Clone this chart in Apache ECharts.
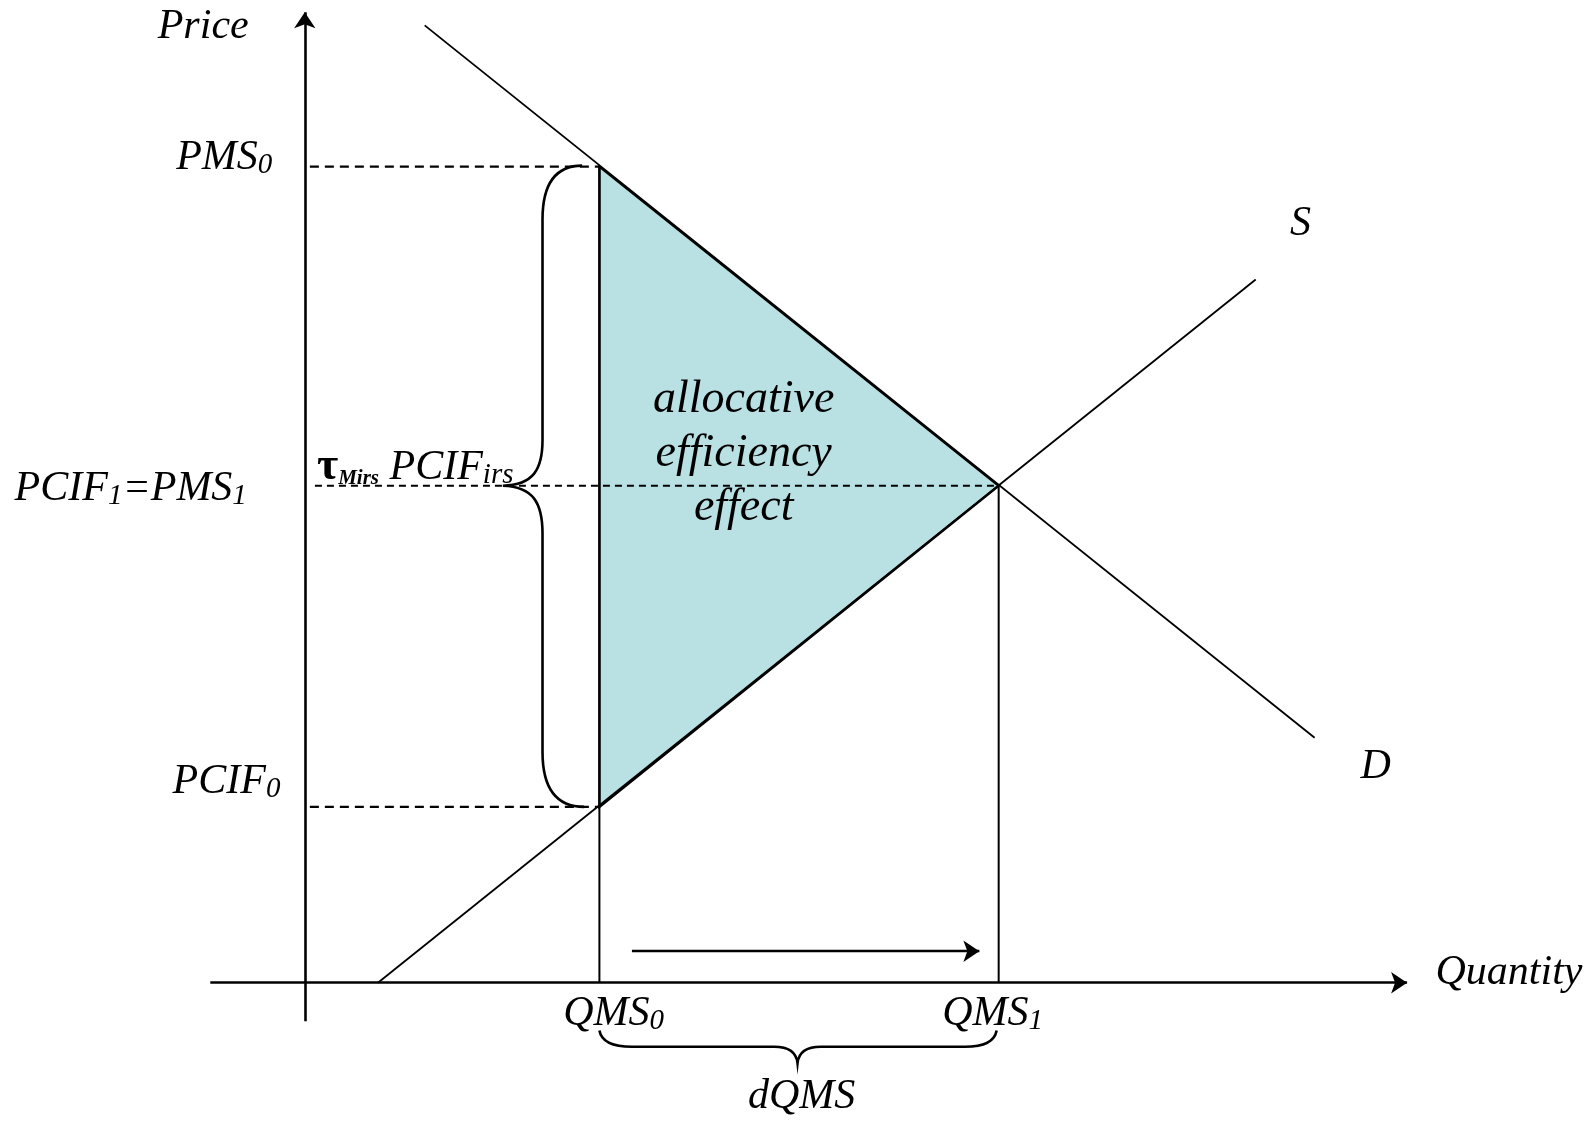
<!DOCTYPE html>
<html>
<head>
<meta charset="utf-8">
<script src="https://cdn.jsdelivr.net/npm/echarts@6/dist/echarts.min.js"></script>
<style>
html,body{margin:0;padding:0;background:#fff;}
#chart{width:1593px;height:1125px;}
</style>
</head>
<body>
<div id="chart"></div>
<script>
// ---------- data (quantity / price units, origin at axes crossing) ----------
const quantities = [290, 683];            // QMS0, QMS1
const prices = [803, 489, 173];           // PMS0, PCIF1=PMS1, PCIF0
const demandCurve = [[118, 942], [994, 241]];
const supplyCurve = [[72, 0], [936, 692]];
const quantityLabels = ['QMS{s|0}', 'QMS{s|1}'];
const priceLabels = ['PMS{s|0}', 'PCIF{s|1}=PMS{s|1}', 'PCIF{s|0}'];
const curveLabels = ['D', 'S'];
const axisNames = ['Price', 'Quantity'];
const effectLabel = 'allocative\nefficiency\neffect';
const tauLabel = '{tau|τ}{mirs|Mirs}{m| PCIF}{s|irs}';
const changeLabel = 'dQMS';

// ---------- layout ----------
const X_MIN = -300, X_MAX = 1268, Y_MIN = -140, Y_MAX = 967;
const FONT = '"Liberation Serif", "Times New Roman", serif';
const FS = 42;
const rich = {
  m: {fontFamily: FONT, fontStyle: 'italic', fontSize: FS, lineHeight: 44},
  s: {fontFamily: FONT, fontStyle: 'italic', fontSize: 29, lineHeight: 11, verticalAlign: 'bottom'},
  tau: {fontFamily: FONT, fontWeight: 'bold', fontSize: 46, lineHeight: 44},
  mirs: {fontFamily: FONT, fontWeight: 'bold', fontStyle: 'italic', fontSize: 21, lineHeight: 16, verticalAlign: 'bottom'}
};
function wrapMain(t) {
  return t.replace(/(^|\})([^{}]+)(?=\{|$)/g, (a, b, c) => b + '{m|' + c + '}');
}

const [QMS0, QMS1] = quantities;
const [PMS0, PMS1, PCIF0] = prices;

const labels = [
  {text: axisNames[0], x: -100, y: 940, align: 'center'},
  {text: axisNames[1], x: 1113, y: 10, align: 'left'},
  {text: priceLabels[0], x: -32, y: PMS0 + 9, align: 'right'},
  {text: priceLabels[1], x: -57, y: PMS1 - 3, align: 'right'},
  {text: priceLabels[2], x: -24, y: PCIF0 + 25, align: 'right'},
  {text: quantityLabels[0], x: QMS0 + 14, y: -31, align: 'center'},
  {text: quantityLabels[1], x: QMS1 - 6, y: -31, align: 'center'},
  {text: changeLabel, x: 489, y: -112, align: 'center'},
  {text: curveLabels[0], x: 1054, y: 212, align: 'center'},
  {text: curveLabels[1], x: 980, y: 747, align: 'center'},
  {text: tauLabel, x: 12, y: PMS1 + 18, align: 'left', raw: true}
];

const chart = echarts.init(document.getElementById('chart'), null, {renderer: 'canvas'});

function braceLeft(api) {
  const P = (x, y) => api.coord([x, y]);
  const pts = [
    ['M', [273, PMS0 + 1]],
    ['C', [250, PMS0 + 1], [234, 790], [234, 751]],
    ['L', [234, 534]],
    ['C', [234, 505], [225, 490], [195, PMS1]],
    ['C', [225, 488], [234, 472], [234, 442]],
    ['L', [234, 227]],
    ['C', [234, 188], [250, PCIF0], [275, PCIF0]]
  ];
  return toPath(pts, P);
}
function braceBottom(api) {
  const P = (x, y) => api.coord([x, y]);
  const pts = [
    ['M', [QMS0, -47]],
    ['C', [292, -58], [302, -63], [322, -63]],
    ['L', [462, -63]],
    ['C', [478, -63], [484, -70], [485, -79]],
    ['C', [486, -70], [492, -63], [508, -63]],
    ['L', [650, -63]],
    ['C', [669, -63], [679, -58], [QMS1 - 2, -47]]
  ];
  return toPath(pts, P);
}
function toPath(pts, P) {
  let d = '';
  pts.forEach(seg => {
    d += seg[0];
    for (let i = 1; i < seg.length; i++) {
      const p = P(seg[i][0], seg[i][1]);
      d += ' ' + p[0].toFixed(2) + ' ' + p[1].toFixed(2);
    }
    d += ' ';
  });
  return d;
}

const lineBase = {type: 'line', showSymbol: false, symbol: 'none', silent: true, z: 3};

const option = {
  animation: false,
  backgroundColor: '#ffffff',
  grid: {left: 0, right: 0, top: 0, bottom: 0},
  xAxis: {type: 'value', min: X_MIN, max: X_MAX, show: false},
  yAxis: {type: 'value', min: Y_MIN, max: Y_MAX, show: false},
  series: [
    // shaded triangle
    {
      type: 'custom', silent: true, z: 1,
      data: [0],
      renderItem: (params, api) => ({
        type: 'polygon',
        shape: {points: [[QMS0, PMS0], [QMS1, PMS1], [QMS0, PCIF0]].map(p => api.coord(p))},
        style: {fill: '#b9e0e3', stroke: '#000', lineWidth: 2.4}
      })
    },
    // demand & supply
    Object.assign({}, lineBase, {data: demandCurve, lineStyle: {color: '#000', width: 1.8}}),
    Object.assign({}, lineBase, {data: supplyCurve, lineStyle: {color: '#000', width: 1.8}}),
    // verticals
    Object.assign({}, lineBase, {data: [[QMS0, PMS0], [QMS0, 0]], lineStyle: {color: '#000', width: 2}}),
    Object.assign({}, lineBase, {data: [[QMS1, PMS1], [QMS1, 0]], lineStyle: {color: '#000', width: 2}}),
    // dashed price lines
    Object.assign({}, lineBase, {data: [[5, PMS0], [QMS0, PMS0]], lineStyle: {color: '#000', width: 2.2, type: [9, 6]}}),
    Object.assign({}, lineBase, {data: [[10, PMS1], [QMS1, PMS1]], lineStyle: {color: '#000', width: 1.8, type: [7, 5]}}),
    Object.assign({}, lineBase, {data: [[5, PCIF0], [QMS0, PCIF0]], lineStyle: {color: '#000', width: 2.2, type: [9, 6]}}),
    // axes and movement arrow
    {
      type: 'lines', coordinateSystem: 'cartesian2d', silent: true, z: 4,
      symbol: ['none', 'arrow'], symbolSize: [0, 16],
      lineStyle: {color: '#000', width: 2.6, opacity: 1},
      data: [
        {coords: [[0, -38], [0, 955]]},
        {coords: [[-93, 0], [1085, 0]]},
        {coords: [[322, 31], [664, 31]], lineStyle: {width: 2.4}}
      ]
    },
    // braces
    {
      type: 'custom', silent: true, z: 5, data: [0, 1],
      renderItem: (params, api) => ({
        type: 'path',
        shape: {pathData: params.dataIndex === 0 ? braceLeft(api) : braceBottom(api)},
        style: {fill: 'none', stroke: '#000', lineWidth: 2.6}
      })
    },
    // labels
    {
      type: 'custom', silent: true, z: 6,
      data: labels.map((l, i) => i),
      renderItem: (params, api) => {
        const L = labels[params.dataIndex];
        const p = api.coord([L.x, L.y]);
        return {
          type: 'text', x: p[0], y: p[1],
          style: {
            text: L.raw ? L.text : wrapMain(L.text),
            rich: rich,
            fill: '#000',
            align: L.align,
            verticalAlign: 'middle'
          }
        };
      }
    },
    // effect label
    {
      type: 'custom', silent: true, z: 6, data: [0],
      renderItem: (params, api) => {
        const p = api.coord([432, 520]);
        return {
          type: 'text', x: p[0], y: p[1],
          style: {
            text: effectLabel, fill: '#000',
            font: 'italic 46px ' + FONT, lineHeight: 54,
            align: 'center', verticalAlign: 'middle'
          }
        };
      }
    }
  ]
};
chart.setOption(option);
</script>
</body>
</html>
